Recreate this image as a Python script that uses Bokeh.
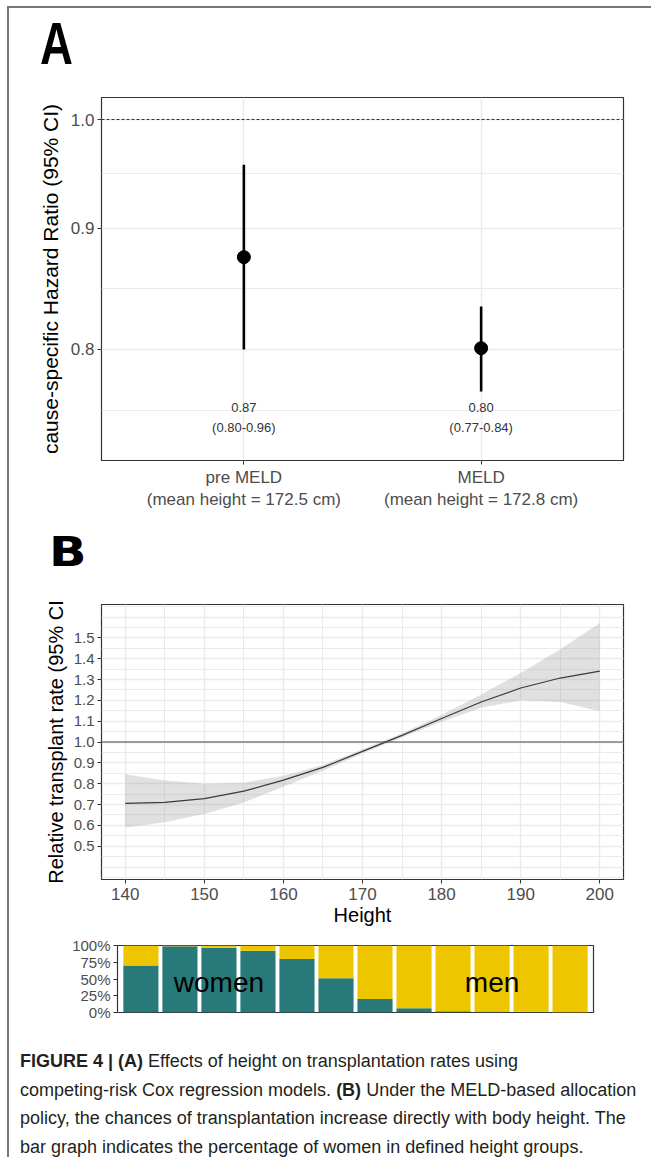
import numpy as np
from bokeh.plotting import figure
from bokeh.layouts import column, row
from bokeh.models import (Range1d, FixedTicker, PrintfTickFormatter,
                          NumeralTickFormatter, Span, Div, Spacer)
from bokeh.embed import file_html
from bokeh.resources import INLINE
from bokeh.core.properties import value

# ---------------- data ----------------
# Panel A: cause-specific hazard ratios
a_models = ["pre MELD", "MELD"]
a_mean_height = ["172.5", "172.8"]
a_hr = [0.875, 0.801]
a_lo = [0.800, 0.768]
a_hi = [0.957, 0.834]
a_hr_text = ["0.87", "0.80"]
a_ci_text = ["(0.80-0.96)", "(0.77-0.84)"]
a_yticks = [0.8, 0.9, 1.0]

# Panel B: relative transplant rate by height
b_height = [140, 145, 150, 155, 160, 165, 170, 175, 180, 185, 190, 195, 200]
b_rate = [0.705, 0.710, 0.728, 0.764, 0.817, 0.878, 0.955, 1.032, 1.113, 1.192, 1.259, 1.307, 1.340]
b_upper = [0.845, 0.815, 0.800, 0.805, 0.838, 0.890, 0.965, 1.042, 1.130, 1.228, 1.331, 1.445, 1.570]
b_lower = [0.590, 0.615, 0.655, 0.710, 0.785, 0.862, 0.945, 1.022, 1.097, 1.165, 1.200, 1.192, 1.148]
b_xticks = [140, 150, 160, 170, 180, 190, 200]
b_yticks = [0.5, 0.6, 0.7, 0.8, 0.9, 1.0, 1.1, 1.2, 1.3, 1.4, 1.5]

# Bar strip: share of women per height group
bar_groups = list(range(1, 13))
bar_women = [0.70, 0.99, 0.965, 0.92, 0.80, 0.51, 0.20, 0.065, 0.02, 0.015, 0.01, 0.0]
bar_ticks = [0, 0.25, 0.5, 0.75, 1.0]
group_labels = ["women", "men"]

panel_letters = ["A", "B"]
caption_html = (
    "<b>FIGURE 4 | (A)</b> Effects of height on transplantation rates using<br>"
    "competing-risk Cox regression models. <b>(B)</b> Under the MELD-based allocation<br>"
    "policy, the chances of transplantation increase directly with body height. The<br>"
    "bar graph indicates the percentage of women in defined height groups."
)

# ---------------- style ----------------
W = 642
FONT = "Liberation Sans"
BORDER = "#333333"
GRID = "#EBEBEB"
TICKTXT = "#4D4D4D"
TEAL = "#28797A"
GOLD = "#EEC600"


def style_common(p):
    p.background_fill_color = "white"
    p.border_fill_color = "white"
    p.outline_line_color = BORDER
    p.outline_line_width = 1.2
    for ax in p.axis:
        ax.axis_line_color = None
        ax.major_tick_line_color = BORDER
        ax.major_tick_out = 4
        ax.major_tick_in = 0
        ax.minor_tick_line_color = None
        ax.major_label_text_color = TICKTXT
        ax.major_label_text_font = FONT
        ax.axis_label_text_font = FONT
        ax.axis_label_text_font_style = "normal"
        ax.axis_label_text_color = "black"
    p.grid.grid_line_color = GRID
    p.grid.grid_line_width = 1.4


def letter_div(letter, font, size, scale, pad_top, pad_left, height):
    html = (f'<div style="font-family:\'{font}\',sans-serif;font-weight:bold;'
            f'font-size:{size}px;line-height:{size}px;color:#000;'
            f'padding:{pad_top}px 0 0 {pad_left}px;white-space:nowrap;">'
            f'<span style="display:inline-block;transform:scaleX({scale});'
            f'transform-origin:left center;">{letter}</span></div>')
    return Div(text=html, width=W, height=height, margin=0)


# ---------------- Panel A ----------------
divA = letter_div(panel_letters[0], "Liberation Sans", 60, 0.76, 6, 31, 70)

a_x = list(range(1, len(a_models) + 1))
pA = figure(width=W, height=442, x_range=Range1d(0.4, 2.6),
            y_range=Range1d(0.7183, 1.0216), y_axis_type="log", title=None,
            output_backend="svg", toolbar_location=None,
            min_border_left=92, min_border_right=28,
            min_border_top=19, min_border_bottom=60)
style_common(pA)

pA.xaxis.ticker = FixedTicker(ticks=a_x)
pA.xaxis.major_label_overrides = {
    x: f"{m}\n(mean height = {h} cm)" for x, m, h in zip(a_x, a_models, a_mean_height)
}
pA.xaxis.major_label_text_font_size = "17px"
pA.xaxis.major_label_standoff = 3
pA.yaxis.ticker = FixedTicker(ticks=a_yticks)
pA.yaxis.formatter = PrintfTickFormatter(format="%.1f")
pA.yaxis.major_label_text_font_size = "17px"
pA.yaxis.major_label_standoff = 3
pA.yaxis.axis_label = "cause-specific Hazard Ratio (95% CI)"
pA.yaxis.axis_label_text_font_size = "21px"
pA.yaxis.axis_label_standoff = 6

minorA = [float(np.sqrt(a * b)) for a, b in zip(a_yticks[:-1], a_yticks[1:])]
minorA = [a_yticks[0] ** 2 / minorA[0]] + minorA
pA.xgrid.ticker = FixedTicker(ticks=a_x)
pA.ygrid.ticker = FixedTicker(ticks=a_yticks, minor_ticks=minorA)
pA.ygrid.minor_grid_line_color = GRID
pA.ygrid.minor_grid_line_width = 1.0

pA.add_layout(Span(location=1.0, dimension="width", line_color=BORDER,
                   line_width=1, line_dash="3 2"))
pA.segment(x0=a_x, y0=a_lo, x1=a_x, y1=a_hi, line_color="black", line_width=2.6)
pA.scatter(a_x, a_hr, size=13, color="black")
lab_y = 0.756
lab_y2 = 0.7417
pA.text(x=a_x, y=[lab_y] * len(a_x), text=a_hr_text, text_align="center",
        text_baseline="middle", text_font_size="13px", text_font=value(FONT),
        text_color="#333333")
pA.text(x=a_x, y=[lab_y2] * len(a_x), text=a_ci_text, text_align="center",
        text_baseline="middle", text_font_size="13px", text_font=value(FONT),
        text_color="#333333")

# ---------------- Panel B ----------------
divB = letter_div(panel_letters[1], "DejaVu Sans", 41, 1.2, 12, 40, 62)

pB = figure(width=W, height=346, x_range=Range1d(137, 203),
            y_range=Range1d(0.34, 1.66), title=None,
            output_backend="svg", toolbar_location=None,
            min_border_left=92, min_border_right=28,
            min_border_top=22, min_border_bottom=48)
style_common(pB)

pB.xaxis.ticker = FixedTicker(ticks=b_xticks)
pB.xaxis.major_label_text_font_size = "17px"
pB.xaxis.major_label_standoff = 4
pB.xaxis.axis_label = "Height"
pB.xaxis.axis_label_text_font_size = "20px"
pB.xaxis.axis_label_standoff = 1
pB.yaxis.ticker = FixedTicker(ticks=b_yticks)
pB.yaxis.formatter = PrintfTickFormatter(format="%.1f")
pB.yaxis.major_label_text_font_size = "15px"
pB.yaxis.major_label_standoff = 3
pB.yaxis.axis_label = "Relative transplant rate (95% CI"
pB.yaxis.axis_label_text_font_size = "20px"
pB.yaxis.axis_label_standoff = 4

gx_major = list(range(140, 201, 10))
gx_minor = list(range(145, 200, 10))
gy_major = [round(0.4 + 0.1 * i, 2) for i in range(13)]
gy_minor = [round(0.35 + 0.1 * i, 2) for i in range(14)]
pB.xgrid.ticker = FixedTicker(ticks=gx_major, minor_ticks=gx_minor)
pB.ygrid.ticker = FixedTicker(ticks=gy_major, minor_ticks=gy_minor)
pB.xgrid.minor_grid_line_color = GRID
pB.ygrid.minor_grid_line_color = GRID
pB.xgrid.minor_grid_line_width = 1.0
pB.ygrid.minor_grid_line_width = 1.0

pB.varea(x=b_height, y1=b_lower, y2=b_upper, fill_color="#999999", fill_alpha=0.3)
pB.add_layout(Span(location=1.0, dimension="width", line_color="#444444", line_width=1.2))
pB.line(b_height, b_rate, line_color="#3a3a3a", line_width=1.2)

# ---------------- Bar strip ----------------
pC = figure(width=W, height=94, x_range=Range1d(0.4, 12.6), y_range=Range1d(0, 1),
            title=None, output_backend="svg", toolbar_location=None,
            min_border_left=108, min_border_right=58,
            min_border_top=17, min_border_bottom=10)
style_common(pC)
pC.xaxis.visible = False
pC.grid.visible = False
pC.yaxis.ticker = FixedTicker(ticks=bar_ticks)
pC.yaxis.formatter = NumeralTickFormatter(format="0%")
pC.yaxis.major_label_text_font_size = "15px"
pC.yaxis.major_label_standoff = 3
pC.vbar(x=bar_groups, width=0.9, bottom=0, top=bar_women, fill_color=TEAL, line_color=None)
pC.vbar(x=bar_groups, width=0.9, bottom=bar_women, top=1, fill_color=GOLD, line_color=None)
pC.text(x=[3, 10], y=[0.45, 0.45], text=group_labels, text_align="center",
        text_baseline="middle", text_font_size="28px", text_font=value(FONT),
        text_color="black")

# ---------------- Caption ----------------
caption = Div(
    text=('<div style="font-family: \'Liberation Sans\', Arial, sans-serif; '
          'font-size: 18px; line-height: 28.5px; color: #231F20; '
          'padding: 25px 0 0 11px; white-space: nowrap;">' + caption_html + '</div>'),
    width=W, height=135, margin=0,
    styles={"overflow": "hidden"})

inner = column(divA, pA, divB, pB, row(pC), caption, spacing=0)
top_line = Div(text="", width=644, height=2, margin=0,
               styles={"background-color": "#777777"})
left_line = Div(text="", width=2, height=1149, margin=0,
                styles={"background-color": "#777777"})
layout = column(
    Spacer(width=651, height=6),
    row(Spacer(width=7, height=2), top_line),
    row(Spacer(width=7, height=1149), left_line, inner),
)

open("out.html", "w").write(file_html(layout, INLINE))
